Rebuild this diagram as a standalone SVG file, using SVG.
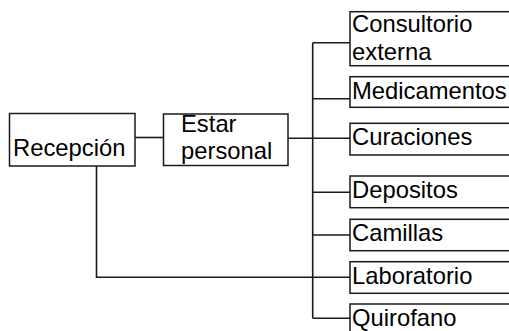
<svg xmlns="http://www.w3.org/2000/svg" width="509" height="331" viewBox="0 0 509 331">
<style>
.box{fill:#fff;stroke:#1a1a1a;stroke-width:1.5}
.ln{fill:none;stroke:#1a1a1a;stroke-width:1.6}
text{font-family:"Liberation Sans",Arial,sans-serif;font-size:23.8px;fill:#000}
</style>
<rect width="509" height="331" fill="#fff"/>
<g id="connectors">
<path class="ln" d="M135 137.5H163"/>
<path class="ln" d="M288 138.3H350"/>
<path class="ln" d="M312.7 42.7V318.3"/>
<path class="ln" d="M312.7 42.7H350M312.7 98.7H350M312.7 192.3H350M312.7 235H350M312.7 318.3H350"/>
<path class="ln" d="M96.5 166V277.3H350"/>
</g>
<g id="recepcion"><rect class="box" x="9.5" y="113.5" width="125.5" height="52.5"/><text x="13" y="156">Recepción</text></g>
<g id="estar"><rect class="box" x="163.5" y="114" width="124.5" height="51.5"/><text x="181" y="132">Estar</text><text x="181" y="159">personal</text></g>
<g id="consultorio"><rect class="box" x="350" y="11.7" width="165" height="54"/><text x="352" y="32">Consultorio</text><text x="352" y="60">externa</text></g>
<g id="medicamentos"><rect class="box" x="350" y="76.7" width="165" height="30.6"/><text x="352" y="98.5">Medicamentos</text></g>
<g id="curaciones"><rect class="box" x="350" y="123.3" width="165" height="31.7"/><text x="352" y="145">Curaciones</text></g>
<g id="depositos"><rect class="box" x="350" y="176" width="165" height="31.7"/><text x="352" y="198">Depositos</text></g>
<g id="camillas"><rect class="box" x="350" y="219.3" width="165" height="31.4"/><text x="352" y="241">Camillas</text></g>
<g id="laboratorio"><rect class="box" x="350" y="261.7" width="165" height="31.6"/><text x="352" y="284">Laboratorio</text></g>
<g id="quirofano"><rect class="box" x="350" y="304" width="165" height="40"/><text x="352" y="325.5">Quirofano</text></g>
</svg>
